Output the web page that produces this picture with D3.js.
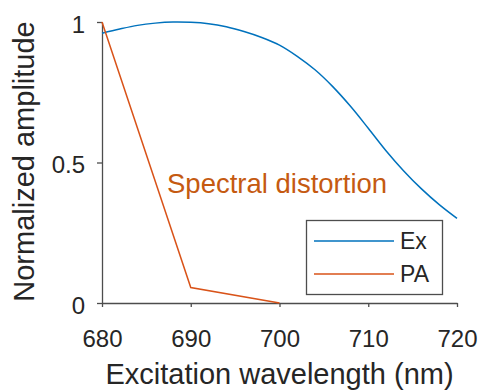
<!DOCTYPE html>
<html>
<head>
<meta charset="utf-8">
<script src="https://cdn.jsdelivr.net/npm/d3@7"></script>
<style>
  body { margin: 0; background: #fff; }
  text { font-family: Arial, "Liberation Sans", sans-serif; }
</style>
</head>
<body>
<div id="chart"></div>
<script>
// excitation spectrum (Ex), every 2 nm
var exWavelength = [680, 682, 684, 686, 688, 690, 692, 694, 696, 698, 700,
                    702, 704, 706, 708, 710, 712, 714, 716, 718, 720];
var exAmplitude = [0.960, 0.975, 0.988, 0.996, 1.000, 0.999, 0.994, 0.983, 0.966, 0.945, 0.918,
                   0.878, 0.830, 0.770, 0.700, 0.622, 0.542, 0.470, 0.406, 0.350, 0.301];

// photoacoustic amplitude (PA)
var paWavelength = [680, 690, 700];
var paAmplitude = [1.0, 0.055, 0.0];

var xTicks = [680, 690, 700, 710, 720];
var yTicks = [0, 0.5, 1];
var yTickLabels = ["0", "0.5", "1"];

var seriesNames = ["Ex", "PA"];
var seriesColors = ["#0072BD", "#D95319"];
var annotation = "Spectral distortion";

var W = 479, H = 390;
var margin = {left: 102, right: 22, top: 22, bottom: 87};

var svg = d3.select("#chart").append("svg")
    .attr("width", W)
    .attr("height", H);

var x = d3.scaleLinear()
    .domain([680, 720])
    .range([margin.left, W - margin.right]);

var y = d3.scaleLinear()
    .domain([0, 1])
    .range([H - margin.bottom, margin.top]);

var axisColor = "#4d4d4d";

// x axis
var xAxis = svg.append("g")
    .attr("transform", "translate(0," + y(0) + ")")
    .call(d3.axisBottom(x).tickValues(xTicks).tickSize(4).tickPadding(23).tickSizeOuter(0));
xAxis.selectAll("text")
    .attr("font-size", 24)
    .attr("fill", "#262626");

// y axis
var yAxis = svg.append("g")
    .attr("transform", "translate(" + x(680) + ",0)")
    .call(d3.axisLeft(y).tickValues(yTicks)
        .tickFormat(function(d, i) { return yTickLabels[i]; })
        .tickSize(5).tickPadding(12).tickSizeOuter(0));
yAxis.selectAll("text")
    .attr("dy", "0.42em")
    .attr("font-size", 24)
    .attr("fill", "#262626");

svg.selectAll(".domain, .tick line")
    .attr("stroke", axisColor)
    .attr("stroke-width", 1.3);

// axis titles
svg.append("text")
    .attr("x", (x(680) + x(720)) / 2)
    .attr("y", 384)
    .attr("text-anchor", "middle")
    .attr("font-size", 29)
    .attr("fill", "#262626")
    .text("Excitation wavelength (nm)");

svg.append("text")
    .attr("transform", "translate(34," + (y(0.5) - 1) + ") rotate(-90)")
    .attr("text-anchor", "middle")
    .attr("font-size", 29)
    .attr("fill", "#262626")
    .text("Normalized amplitude");

// lines
var exData = exWavelength.map(function(d, i) { return [d, exAmplitude[i]]; });
var paData = paWavelength.map(function(d, i) { return [d, paAmplitude[i]]; });

var smoothLine = d3.line()
    .x(function(d) { return x(d[0]); })
    .y(function(d) { return y(d[1]); })
    .curve(d3.curveCatmullRom);

var straightLine = d3.line()
    .x(function(d) { return x(d[0]); })
    .y(function(d) { return y(d[1]); });

svg.append("path")
    .datum(exData)
    .attr("d", smoothLine)
    .attr("fill", "none")
    .attr("stroke", seriesColors[0])
    .attr("stroke-width", 1.5);

svg.append("path")
    .datum(paData)
    .attr("d", straightLine)
    .attr("fill", "none")
    .attr("stroke", seriesColors[1])
    .attr("stroke-width", 1.5);

// annotation
svg.append("text")
    .attr("x", 167)
    .attr("y", 193)
    .attr("font-size", 27.5)
    .attr("fill", "#C55A11")
    .text(annotation);

// legend
var legend = svg.append("g");
legend.append("rect")
    .attr("x", 306.5)
    .attr("y", 220.5)
    .attr("width", 136)
    .attr("height", 74)
    .attr("fill", "#fff")
    .attr("stroke", axisColor)
    .attr("stroke-width", 1.3);

var legendRows = [241, 274];
seriesNames.forEach(function(name, i) {
    legend.append("line")
        .attr("x1", 314).attr("x2", 394)
        .attr("y1", legendRows[i]).attr("y2", legendRows[i])
        .attr("stroke", seriesColors[i])
        .attr("stroke-width", 1.5);
    legend.append("text")
        .attr("x", 400)
        .attr("y", legendRows[i])
        .attr("dy", "0.35em")
        .attr("font-size", 23)
        .attr("fill", "#262626")
        .text(name);
});
</script>
</body>
</html>
